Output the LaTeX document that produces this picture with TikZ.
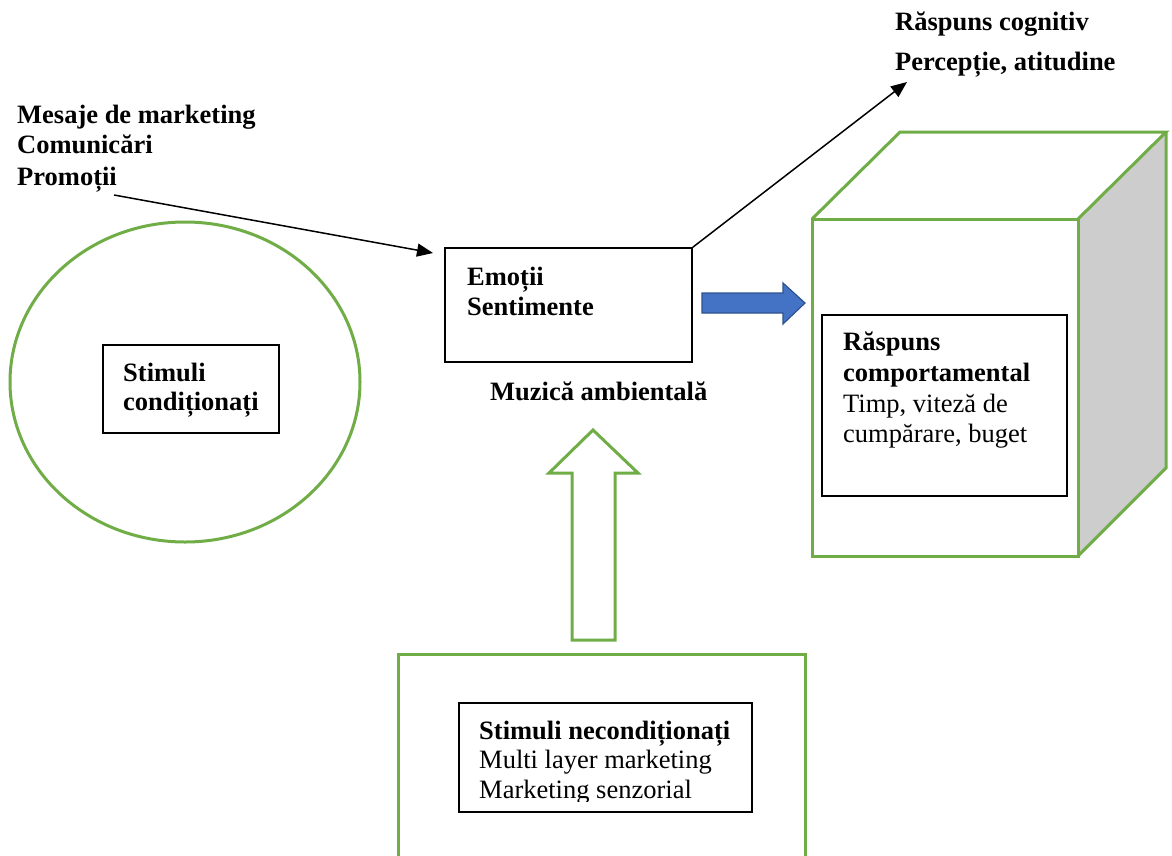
\documentclass[tikz,border=0pt]{standalone}
\usepackage{fontspec}
\setmainfont{Liberation Serif}
\usetikzlibrary{shapes.geometric,arrows.meta}
\definecolor{grn}{HTML}{70AD47}
\definecolor{blu}{HTML}{4472C4}
\definecolor{bluedge}{HTML}{2F528F}
\definecolor{sidegray}{HTML}{CDCDCD}
\begin{document}
\begin{tikzpicture}[x=1pt,y=-1pt,
  gline/.style={draw=grn,line width=3pt},
  bbox/.style={draw=black,line width=1.4pt,fill=white,inner sep=0pt},
  txt/.style={anchor=base west,inner sep=0pt,font=\fontsize{26.5}{31}\selectfont},
  btxt/.style={txt,font=\fontsize{26.5}{31}\selectfont\bfseries},
  conn/.style={draw=black,line width=1.5pt,-{Triangle[length=16pt,width=13pt]}}
]
\clip (0,0) rectangle (1172,855);
\fill[white] (0,0) rectangle (1172,855);

% left ellipse with conditioned stimuli
\node[gline,ellipse,minimum width=350,minimum height=320,inner sep=0pt] (circ) at (185,382) {};
\node[bbox,minimum width=176,minimum height=88] (scbox) at (191,389) {};
\node[btxt] (sc1) at (123,381) {Stimuli};
\node[btxt] (sc2) at (123,410) {condiționați};

% marketing messages
\node[btxt] (msg1) at (17,123) {Mesaje de marketing};
\node[btxt] (msg2) at (17,153) {Comunicări};
\node[btxt] (msg3) at (17,185) {Promoții};
\coordinate (msgtail) at (114,195);

% emotions box
\node[bbox,minimum width=247,minimum height=114] (emobox) at (568.5,305) {};
\node[btxt] (emo1) at (467,285) {Emoții};
\node[btxt] (emo2) at (467,315) {Sentimente};
\node[btxt] (muz) at (490,400) {Muzică ambientală};
\coordinate (msgtip) at (433,253);

% cognitive response
\node[btxt] (cog1) at (895,30) {Răspuns cognitiv};
\node[btxt] (cog2) at (895,70) {Percepție, atitudine};
\coordinate (cogtip) at (907,82);

\draw[conn] (msgtail) -- (msgtip);
\draw[conn] (emobox.north east) -- (cogtip);

% blue arrow
\draw[fill=blu,draw=bluedge,line width=1.2pt,line join=miter]
  (702,293) -- (783,293) -- (783,283) -- (805,303) -- (783,324) -- (783,313) -- (702,313) -- cycle;

% cube
\fill[sidegray] (1078,219) -- (1166,132) -- (1166,468) -- (1078,556) -- cycle;
\draw[gline,line join=miter] (812,219) -- (900,132) -- (1166,132) -- (1078,219);
\draw[gline,line join=miter] (1166,132) -- (1166,468) -- (1078,556);
\draw[gline] (812,219) rectangle (1078,556);

\node[bbox,minimum width=245,minimum height=181] (rcbox) at (944.5,405.5) {};
\node[btxt] (rc1) at (843,350) {Răspuns};
\node[btxt] (rc2) at (843,381) {comportamental};
\node[txt] (rc3) at (843,412) {Timp, viteză de};
\node[txt] (rc4) at (843,442) {cumpărare, buget};

% green up arrow
\draw[gline,line join=miter] (572,640) -- (572,473) -- (549,473) -- (593,430) -- (638,473) -- (615,473) -- (615,640) -- cycle;

% bottom box
\draw[gline] (398,880) -- (398,654) -- (805,654) -- (805,880);
\node[bbox,minimum width=293,minimum height=109] (snbox) at (605.5,757.5) {};
\node[btxt] (sn1) at (479,739) {Stimuli necondiționați};
\node[txt] (sn2) at (479,768) {Multi layer marketing};
\begin{scope}
  \clip (460,703) rectangle (751,801);
  \node[txt] (sn3) at (479,798) {Marketing senzorial};
\end{scope}
\end{tikzpicture}
\end{document}
